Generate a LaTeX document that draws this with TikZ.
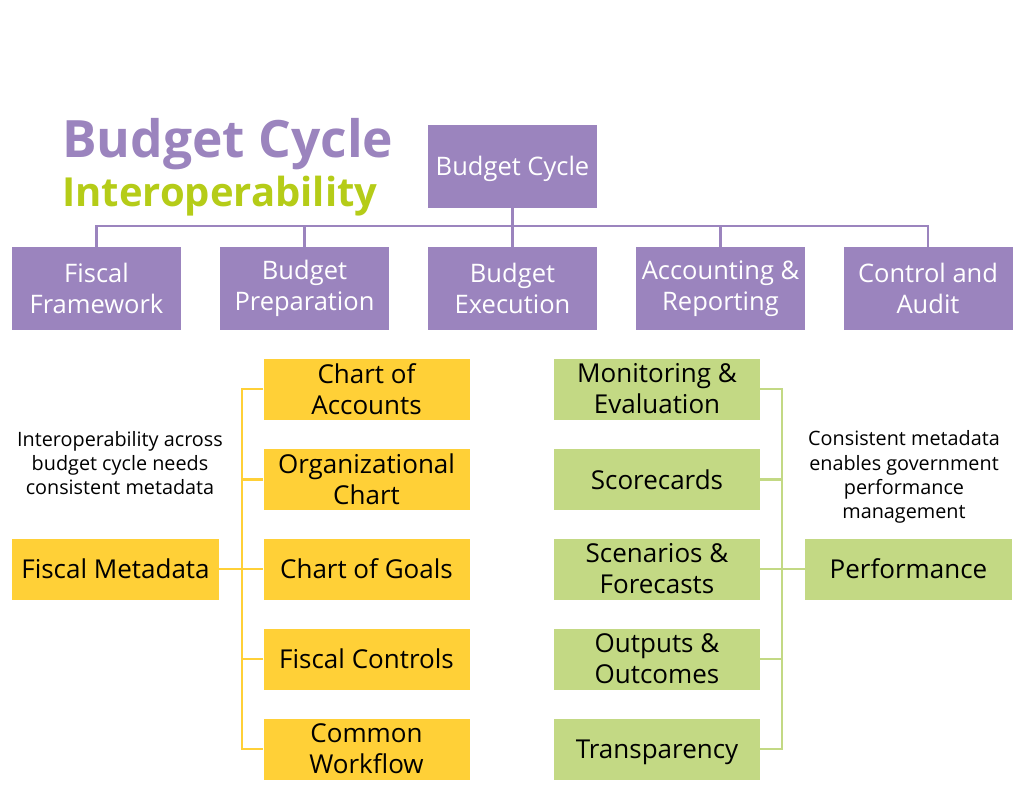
\documentclass[tikz,border=0pt]{standalone}
\usepackage{fontspec}
\setmainfont{Open Sans}
\usetikzlibrary{positioning}
\definecolor{cyclepurple}{RGB}{155,132,190}
\definecolor{metayellow}{RGB}{255,208,55}
\definecolor{perfgreen}{RGB}{195,217,132}
\definecolor{titlegreen}{RGB}{181,204,24}
\tikzset{
  stagebox/.style={fill=cyclepurple, text=white, minimum width=169, minimum height=83,
    inner sep=0pt, align=center, font=\fontsize{25.5}{30.5}\selectfont},
  metabox/.style={fill=metayellow, minimum width=206, minimum height=61,
    inner sep=0pt, align=center, font=\fontsize{26}{31}\selectfont},
  perfbox/.style={metabox, fill=perfgreen},
  oneline/.style={text height=27.5pt, text depth=7.7pt},
  note/.style={align=center, font=\fontsize{19.8}{24.3}\selectfont},
  stageline/.style={cyclepurple, line width=2.8pt},
  metaline/.style={metayellow, line width=2.8pt},
  perfline/.style={perfgreen, line width=2.8pt}
}

\begin{document}
\begin{tikzpicture}[x=1pt,y=-1pt]
  \useasboundingbox (0,0) rectangle (1024,798);
  % title
  \node [anchor=base west, inner sep=0pt, cyclepurple, font=\fontsize{51.5}{54}\bfseries] (t1) at (62,157) {Budget Cycle};
  \node [anchor=base west, inner sep=0pt, titlegreen, font=\fontsize{40}{42}\bfseries] (t2) at (62,206) {Interoperability};
  % stages
  \node [stagebox, oneline] (cycle) at (512.5,166) {Budget Cycle};
  \node [stagebox] (ff) at (96.5,288.5) {Fiscal\\Framework};
  \node [stagebox] (bp) at (304.5,288.5) {Budget\\Preparation};
  \node [stagebox] (be) at (512.5,288.5) {Budget\\Execution};
  \node [stagebox] (ar) at (720.5,288.5) {Accounting \&\\Reporting};
  \node [stagebox] (ca) at (928,288.5) {Control and\\Audit};
  \coordinate (bus) at (512.5,226);
  %% fiscal metadata
  \node [metabox, oneline, minimum width=207] (fm) at (115.5,569) {Fiscal Metadata};
  \node [metabox] (coa) at (366.5,389) {Chart of\\Accounts};
  \node [metabox] (org) at (366.5,479.5) {Organizational\\Chart};
  \node [metabox, oneline] (cog) at (366.5,569) {Chart of Goals};
  \node [metabox, oneline] (fc) at (366.5,659) {Fiscal Controls};
  \node [metabox] (cw) at (366.5,749) {Common\\Workflow};
  \coordinate (ybar) at (242,569);
  %% performance
  \node [perfbox, oneline, minimum width=207] (perf) at (908.5,569) {Performance};
  \node [perfbox] (me) at (657,389) {Monitoring \&\\Evaluation};
  \node [perfbox, oneline] (sc) at (657,479.5) {Scorecards};
  \node [perfbox] (sf) at (657,569) {Scenarios \&\\Forecasts};
  \node [perfbox] (oo) at (657,659) {Outputs \&\\Outcomes};
  \node [perfbox, oneline] (tr) at (657,749) {Transparency};
  \coordinate (gbar) at (782,569);
  % notes
  \node [note] (n1) at (120,463) {Interoperability across\\budget cycle needs\\consistent metadata};
  \node [note] (n2) at (904,477) {Consistent metadata\\enables government\\performance\\management};
  % edges
  \draw [stageline] (cycle.south) -- (bus);
  \draw [stageline] (ff.north) |- (bus) -| (ca.north);
  \draw [stageline] (bp.north) -- (bp.north |- bus);
  \draw [stageline] (be.north) -- (bus);
  \draw [stageline] (ar.north) -- (ar.north |- bus);
  %% fiscal metadata
  \draw [metaline] (coa.west) -| (ybar) |- (cw.west);
  \draw [metaline] (org.west) -- (org.west -| ybar);
  \draw [metaline] (fc.west) -- (fc.west -| ybar);
  \draw [metaline] (fm.east) -- (cog.west);
  %% performance
  \draw [perfline] (me.east) -| (gbar) |- (tr.east);
  \draw [perfline] (sc.east) -- (sc.east -| gbar);
  \draw [perfline] (oo.east) -- (oo.east -| gbar);
  \draw [perfline] (sf.east) -- (perf.west);
\end{tikzpicture}
\end{document}
